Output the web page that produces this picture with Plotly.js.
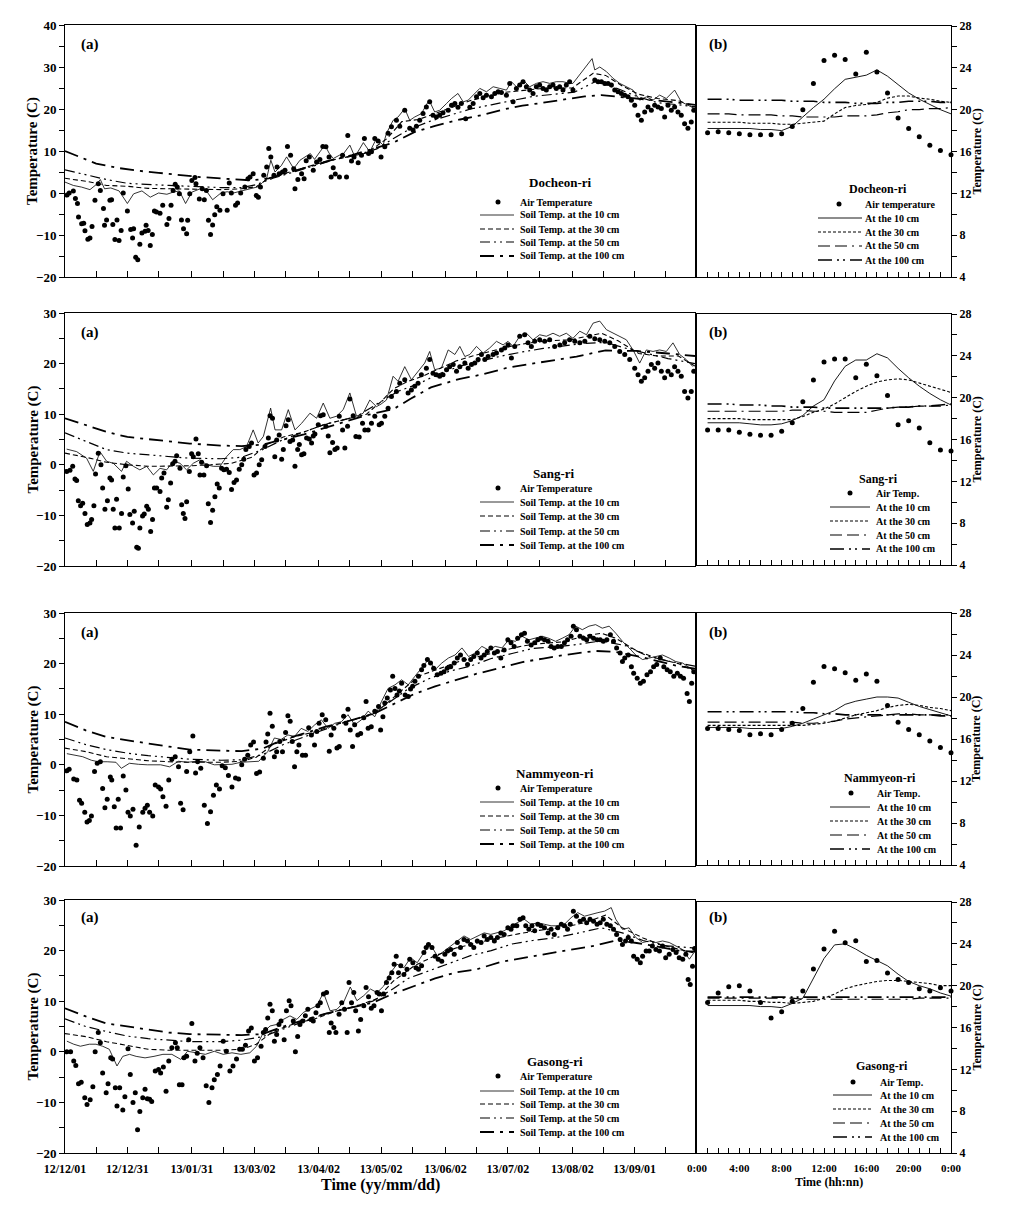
<!DOCTYPE html>
<html><head><meta charset="utf-8">
<script src="https://cdn.plot.ly/plotly-3.0.1.min.js"></script>
<style>body{margin:0;background:#fff}#chart{width:1011px;height:1214px}</style>
</head><body><div id="chart"></div>
<script>
// ---------------- DATA ----------------
const siteNames = ['Docheon-ri','Sang-ri','Nammyeon-ri','Gasong-ri'];
// x axis of panel (a): days since 2012-12-01
const dateTickDays = [0,15,30,45,61,76,91,106,122,137,152,167,183,198,213,228,244,259,274,289];
const dateTickLabels = ['12/12/01','','12/12/31','','13/01/31','','13/03/02','','13/04/02','','13/05/02','','13/06/02','','13/07/02','','13/08/02','','13/09/01',''];
const hourTicks = [0,1,2,3,4,5,6,7,8,9,10,11,12,13,14,15,16,17,18,19,20,21,22,23,24];
const hourLabels = ['0:00','','','','4:00','','','','8:00','','','','12:00','','','','16:00','','','','20:00','','','','0:00'];
const hours = [1,2,3,4,5,6,7,8,9,10,11,12,13,14,15,16,17,18,19,20,21,22,23,24];

// ----- Docheon-ri daily -----
const airDocheon = [[1,-0.5],[2,0],[4,0.5],[5,-1.3],[6,-2.5],[6.5,-5.7],[8,-7.3],[9,-7.2],[9.6,-9],[11,-11],[12,-10.7],[13,-8],[14.4,-1.7],[16,2.2],[17,0.6],[18.5,-3.7],[19,-7.7],[20,-6.4],[21.6,-1.7],[22.4,-1.6],[23,-7.5],[24,-11.1],[25,-6.4],[26,-11.3],[27,-8.9],[28,0],[30,-4.3],[31.6,-8.7],[32.5,-10.7],[33,-8.5],[34,-15.3],[35,-15.9],[36,-12.2],[37,-9.5],[38.5,-9.1],[39,-7.7],[40,-8.9],[41,-12.5],[42,-9.9],[43,-4.3],[44,-4.5],[45.7,-4.8],[47,-2.9],[49,-7.5],[50,-6.1],[51,-2.9],[52,0.6],[53,2.1],[54,1.4],[55,-0.2],[56,-6.4],[57,-8.5],[58.5,-9.7],[59,-6.5],[60,-0.2],[61,3],[62.5,3.7],[63,2.2],[64.6,-1.4],[66,1],[67,-1.6],[68,0.6],[69,-6.5],[70,-9.9],[71,-7.6],[72,-5.2],[73,-3.3],[74.5,-4.1],[76,-0.2],[78,-4.1],[79,2.4],[80,0],[82,-2.9],[83,-2.4],[84.5,0],[86.5,1.4],[88,3.4],[89,3.8],[90.5,4.6],[92,-0.6],[93,-1],[94,1.4],[95.6,4.2],[97,6.2],[98,10.6],[99,8.6],[100.5,4.2],[102,6.2],[103,4.6],[104.6,5],[105.8,5.4],[107,11.1],[108.5,9],[110,5.8],[110.6,1],[112,3.2],[113.8,4.6],[115,3.4],[116,7.7],[117.5,8.6],[119.4,5.4],[121,7.4],[122.6,8],[124,11.1],[125.5,11],[127,8.6],[128,3.8],[129,6],[130,4.5],[132,3.8],[133.5,9],[135.4,3.8],[136,13.7],[137.8,7.6],[139,8.6],[141,7.2],[142.6,9],[144,13],[146,9.4],[147.4,9.8],[149,13],[150.6,12.4],[152,8.6],[153.8,11],[155.4,14.2],[157,15.8],[159.4,17.3],[161,15.9],[163.4,19.7],[165.8,15.4],[167.4,15],[169,15.9],[170.6,17.3],[172.2,18.9],[173.8,20.5],[175.4,21.7],[177,18.5],[178.6,18.1],[180.2,18.5],[181.8,19.1],[184.3,19.7],[185.9,20.9],[187.5,21.3],[189,20.4],[190.6,21.3],[192.7,17.7],[194.7,20.4],[196.3,21.3],[197.9,22.9],[199.5,23.7],[201.1,22.7],[202.7,23.3],[205.1,22.9],[206.7,23.7],[208.3,24.1],[209.9,23.9],[212.3,23.3],[213.9,26.1],[215.5,21.7],[217.1,24.9],[218.7,25.7],[220.3,26.5],[221.9,25.3],[223.5,24.5],[225.1,23.7],[226.7,25.3],[228.3,25.7],[229.9,24.9],[231.5,24.5],[233.1,25.3],[234.7,25.7],[236.3,24.9],[237.9,25.3],[239.5,24.5],[241.1,25.7],[242.7,26.5],[244.3,24.5],[254.8,26.9],[256.4,26.5],[258,26.5],[259.6,26.1],[261.2,26.1],[262.8,25.7],[264.4,24.5],[266,24.1],[267.6,23.7],[269.2,23.3],[270.8,22.9],[272.4,22.1],[274,20.9],[275.6,18.5],[277.2,17.3],[278.8,19.3],[280.4,20.5],[282,19.7],[283.6,20.9],[285.2,20.5],[286.8,20.1],[288.4,18.1],[290,20.9],[291.6,19.7],[293.2,20.5],[294.8,19.3],[296.4,18.5],[298,16.5],[299.6,15.4],[301.2,16.9],[302.4,19.7]];
const soil10Docheon = [[0,2.6],[4,1.8],[8,1.4],[12,0.8],[15,2],[17,3.2],[19,1],[22,1.2],[26,0.5],[30,-2.5],[33,-0.2],[37,0.5],[41,-1],[45,0],[49,-0.3],[52,0.2],[55,0.5],[58,-2.5],[61,0.2],[65,1],[68,0.5],[71,-1.6],[75,0],[78,0.3],[81,0],[85,0.5],[88,0.8],[90,1],[93,1.5],[95,2.5],[97,3.5],[99,7.8],[101,5],[104,6.5],[106.6,8.6],[110,5.8],[113,7.8],[118,9.4],[120,8],[122.6,9.8],[125,11.4],[127,9.5],[129,8.2],[132,9],[134,9.4],[137,11.4],[139.4,8.6],[143.5,12],[146.6,9.8],[149.8,13],[153,11.4],[154.6,14.2],[157.8,17.3],[160.2,18.1],[163.4,20.1],[165.8,17.3],[168.2,18.1],[171.4,18.9],[175.1,22.1],[177.8,19.3],[180.2,19.7],[183.5,21.3],[185.9,22.5],[189,23.7],[191.5,21.7],[193.9,22.1],[196.3,23.3],[199.5,24.9],[202.7,24.1],[205.9,25.3],[209.1,24.9],[212.3,24.5],[214.7,26.5],[217.1,25.3],[220.3,26.9],[223.5,25.3],[226.7,26.1],[229.9,26.5],[233.1,26.1],[236.3,26.5],[239.5,26.5],[242.7,26.1],[244.3,26.1],[249.2,29.3],[253.5,32],[254.8,29.3],[257.2,30],[260.4,28.9],[263.6,27.3],[266.8,26.1],[270,25.3],[273.2,24.5],[276.4,22.1],[279.6,22.9],[282.8,22.1],[286,23.3],[289.2,22.5],[293.2,24.5],[296.4,21.7],[299.6,20.9],[302.8,20.1]];
const soil30Docheon = [[0,3.5],[10,2.8],[20,1.8],[30,1.6],[40,1.1],[50,1],[60,1],[75,0.8],[85,1],[92,1.5],[98,3.5],[105,4.5],[115,6],[125,7.5],[135,8.5],[145,9.5],[155,13],[162,17],[170,17.5],[178,19],[186,20.5],[195,22],[203,23],[212,24],[222,24.5],[232,25],[244,25],[254,28.5],[260,28],[268,25.5],[276,23.5],[285,22.5],[295,22],[303,20.5]];
const soil50Docheon = [[0,5.5],[10,4.3],[20,3.2],[30,2.3],[40,2],[50,1.8],[60,1.6],[75,1.3],[85,1.3],[92,2],[100,3.5],[110,5],[120,6.5],[130,8],[140,9],[150,10.5],[158,13],[165,15],[175,17],[185,18.5],[195,20],[205,21],[215,22],[225,23],[235,23.5],[245,24],[255,26.5],[265,25],[275,23],[285,21.5],[295,21],[303,20.5]];
const soil100Docheon = [[0,10],[8,8.5],[15,7],[25,6],[35,5.3],[45,4.8],[55,4.3],[65,3.8],[80,3.3],[90,3],[98,3.5],[105,4.5],[112,5.5],[120,6.8],[128,7.8],[138,9],[148,10.5],[158,12],[168,14.5],[178,16],[190,17.5],[200,18.5],[210,19.8],[220,20.8],[230,21.5],[240,22.3],[250,23],[258,23.3],[265,23],[275,22.5],[285,22],[295,21.5],[303,21]];

// ----- Sang-ri daily -----
const airSang = [[0.8,-1.3],[2.4,-1.1],[3.7,-0.3],[4.8,-2.8],[5.6,-3.1],[6.4,-7.1],[7.5,-8.1],[8.5,-7.6],[9.6,-9.6],[10.7,-11.8],[12,-11.5],[12.8,-10.8],[13.9,-8.1],[14.7,-1.8],[16,2.3],[17.3,0],[18.1,-4.6],[19.2,-8.8],[20.4,-7.1],[21.6,-2.6],[22.4,-3],[23.2,-8.8],[24,-12.5],[24.8,-6.8],[26.1,-12.5],[27.2,-9.6],[28,-2.4],[29.3,-0.2],[30.4,-4.8],[31.2,-9.8],[32.5,-11.5],[33.3,-9.2],[34.5,-16.3],[35.3,-16.5],[36,-12.5],[37.3,-10.1],[38.1,-9.7],[39.3,-8.2],[40.1,-8.8],[41.2,-13.2],[42.1,-10.8],[43,-4.6],[44.1,-4.6],[45.7,-5.3],[46.5,-2.6],[47.6,-1.6],[48.9,-8.4],[49.7,-6.9],[50.8,-3.6],[51.8,0.2],[52.9,0.7],[53.7,1.8],[55.3,-0.7],[56.1,-7.9],[56.9,-9.6],[57.7,-10.6],[58.5,-7.3],[59.8,-1.3],[60.9,2.2],[61.7,1.6],[63,5.1],[64.1,2.2],[64.9,-2],[65.7,0.5],[66.8,-2],[68.1,-0.2],[68.9,-7.7],[70,-11.4],[71,-9],[72.1,-6.3],[73.2,-3.8],[74.2,-4.6],[75.3,-0.7],[76.4,-1],[77.7,-0.9],[79,-1.5],[80.1,-4.9],[81.3,-3.5],[82.5,-3],[83.8,-0.9],[85,0],[86,1.1],[87,3],[88.6,3.6],[89.7,4.3],[90.9,-2],[92.1,-1.6],[93.4,0],[94.6,1],[96.2,3.6],[97.8,5.3],[98.6,9.7],[99.8,9.2],[100.9,1.6],[101.8,4.9],[103,5.9],[104.2,1.1],[105,3],[106.3,7.7],[107.4,8.9],[108.2,4.6],[109.5,4.9],[110.6,-0.3],[111.9,3],[112.7,4],[113.8,2],[114.9,2.2],[116.2,5.3],[117.5,5.1],[118.6,4.3],[119.4,5.7],[120.2,6.1],[121.8,7.9],[122.9,9.7],[124.2,9.9],[125.5,7.6],[126.6,5.7],[127.4,2.4],[128.7,4.4],[129.8,3],[130.9,3.3],[131.9,9.6],[133.5,6.9],[134.6,3.3],[135.9,7.6],[137,13],[138.6,9.7],[139.9,5.6],[141.5,5.5],[143.1,8.2],[144.2,6.9],[145.8,6.9],[147.4,8.2],[149,9.6],[151.1,7.9],[152.2,8.2],[153.8,9.6],[155.4,11.2],[157,13.5],[159.4,14.5],[161,16.1],[163.4,16.8],[165,14.2],[166.6,14.8],[168.2,15.5],[169.8,16.1],[171.4,17.8],[173.8,19.1],[175.4,20.8],[177,18.1],[178.6,17.8],[180.2,17.5],[181.8,17.8],[183.5,18.8],[185,19.4],[186.7,19.8],[188.3,18.5],[189.9,19.4],[192.3,20.1],[193.9,19.1],[195.5,19.8],[197.1,20.1],[198.7,20.8],[200.3,21.8],[201.9,20.8],[203.5,21.4],[205.9,21.8],[207.5,22.1],[209.9,22.7],[211.5,23.1],[213.1,23.7],[214.7,21.1],[216.3,23.4],[218.7,25.4],[221.1,25.7],[222.7,24.1],[224.3,23.4],[225.9,24.4],[228.3,24.7],[230.7,24.4],[233.1,24.7],[235.5,23.4],[238,23.7],[240.3,24.1],[242.7,24.7],[245.2,24.4],[247.6,24.1],[250,24.4],[252.4,25.4],[254.8,24.9],[257.2,24.7],[259.6,24.4],[262,24.1],[264.4,23.4],[266.8,22.4],[269.2,21.8],[271.6,20.8],[274,19.1],[275.6,17.8],[277.2,16.5],[278.8,17.2],[280.4,18.5],[282,19.8],[283.6,19.1],[285.2,20.1],[286.8,18.5],[288.4,17.2],[290,18.5],[291.6,17.8],[293.2,19.4],[294.8,18.5],[296.4,17.5],[298,14.5],[299.6,13.2],[301.2,14.5],[302.4,18.5]];
const soil10Sang = [[0.8,3.1],[5.6,2.6],[10.4,1.3],[13.6,-1.3],[16.8,2.6],[20,0.7],[23.2,0.3],[27.2,-1.3],[29.6,0.7],[32.9,-0.3],[36,-1],[39.3,-0.3],[42.5,-2],[45.7,-0.7],[48.9,-1],[52.1,0.7],[55.3,0.3],[58.5,-1],[61.7,0.3],[64.9,1],[68.1,0],[71.3,-0.3],[74.5,-0.3],[77.7,1.6],[80.9,3],[84.1,3],[87.3,3.6],[90.5,6.9],[92.9,4.3],[95.4,5.6],[98.9,11.2],[101,6.9],[104.2,6.9],[107.4,10.9],[110.6,6.9],[113.8,8.2],[117.8,10.2],[121,9.2],[124.2,12.2],[127.4,9.2],[130.6,9.6],[133.8,10.9],[137,14.2],[140.2,9.6],[143.4,10.2],[146.6,12.8],[149.8,11.5],[152,12],[154.6,12.8],[157.8,17.5],[160.2,16.5],[163.4,19.4],[166.6,16.8],[169.8,18.5],[173,20.1],[175.4,22.4],[177.8,18.8],[181,19.1],[184.3,22.7],[187.5,21.8],[189.9,23.4],[192.3,21.4],[194.7,21.8],[197.9,23.4],[201.1,22.1],[204.3,23.1],[207.5,24.4],[210.7,23.7],[213.1,24.4],[215.5,23.4],[218.7,25.4],[221.9,26],[225.1,24.7],[228.3,25.7],[231.5,25.4],[234.7,26],[237.9,25.4],[241.1,26],[244.3,25],[247.6,26.4],[250.8,25.7],[254,28],[257.2,28.4],[260.4,26.7],[263.6,26],[266.8,25.4],[270,24.7],[273.2,22.7],[276.4,20.1],[279.6,22.7],[282.8,22.4],[286,22.7],[289.2,22.4],[292.4,24.1],[295.6,21.8],[298.8,20.8],[302,19.4]];
const soil30Sang = [[0,2.3],[10,1.5],[20,0.5],[30,0],[40,-0.3],[50,-0.3],[60,-0.2],[70,0],[80,0.3],[90,1.5],[97,4],[105,5.5],[115,6.5],[125,8],[135,9],[145,10],[152,12.5],[158,15],[165,16.5],[172,17.5],[180,19],[188,20.5],[196,21.5],[205,22.5],[213,23.3],[222,24],[232,24.5],[243,24.7],[252,25.5],[258,26],[266,24.5],[276,22],[285,21.5],[295,21.5],[303,19.5]];
const soil50Sang = [[0,6.3],[10,4.6],[20,3],[30,2.3],[45,1.8],[60,1.3],[75,1.2],[85,1.5],[95,3],[105,5],[115,6.5],[125,8],[140,9.5],[150,12],[160,14.5],[170,16],[180,18],[190,19.5],[200,20.5],[210,21.5],[220,22.3],[230,23],[240,23.5],[250,24],[260,24.2],[270,23],[280,22],[290,21],[303,20]];
const soil100Sang = [[0,9.2],[10,7.8],[20,6.5],[30,5.5],[45,4.8],[60,4.2],[75,3.8],[85,3.7],[95,4],[105,5],[115,6],[125,7.3],[135,8.5],[145,9.8],[158,11],[166,13],[176,15.3],[190,17],[200,17.8],[213,19.2],[222,19.8],[236,20.8],[246,21.4],[260,22.6],[275,22.5],[290,22],[303,21.5]];

// ----- Nammyeon-ri daily -----
const airNammyeon = [[0.9,-1.2],[2,-0.9],[4.2,-2.8],[5.7,-3],[7,-7],[8,-7.6],[9.5,-9.4],[10.6,-11.3],[11.7,-11],[12.7,-10.1],[14.2,-1.3],[15.5,0.3],[17,0.6],[18.1,-4.7],[19.2,-8.5],[20.3,-6.8],[21.8,-2.4],[22.5,-3],[23.7,-8.3],[24.6,-12.5],[25.6,-6.8],[26.7,-12.5],[28,-2.2],[29.3,-5],[30.3,-9.4],[31.4,-10.1],[32.7,-8.8],[34.2,-15.9],[35.7,-12.3],[37.4,-9.4],[38.5,-8.6],[39.6,-8],[40.7,-9.4],[42.2,-10.1],[43.4,-4],[45,-4.4],[46,-4.8],[47.1,-6.3],[48.6,-8.2],[49.9,-3],[51.4,1.1],[53,1.6],[54.6,-0.4],[55.6,-7.6],[56.8,-8.9],[58.5,-1.3],[60,2.6],[61.5,5.7],[62.8,-1.6],[63.8,0.6],[65.3,-0.7],[67,-8],[68.5,-11.6],[70,-9.3],[71.4,-6],[72.8,-4],[74.3,-4.8],[75.6,-0.2],[77.1,-0.6],[78.6,-2.1],[80.3,-4.4],[82,-2.6],[83.5,-2.8],[85,0],[86.4,1.1],[87.9,1.9],[89.3,3.9],[90.7,4.5],[92.1,-1.7],[93.6,-1.4],[95.4,1.3],[96.7,4.5],[97.5,6.1],[98.6,10.2],[99.7,7.6],[100.7,1.6],[101.8,2.6],[103.3,4.6],[104.6,2.6],[106.1,6.4],[107.2,9.7],[108.3,8.6],[109.3,4.6],[110.4,-0.4],[111.5,2.6],[112.5,3.9],[114.2,1.9],[115.7,1.9],[117.2,7.3],[118.5,5.9],[120,3.9],[121.1,6.6],[122.2,8.2],[123.7,9.9],[125.4,8.9],[127.1,2.7],[128,5.9],[129.3,7.2],[130.8,3.3],[131.9,3.6],[134,9.6],[135.1,8.2],[136.1,11],[137.2,6.9],[138.3,3.6],[139.3,7.9],[140.8,5.9],[142.2,6.2],[143.7,9.3],[144.8,12.5],[145.8,7.2],[147.3,7.5],[149,10.6],[150.8,11.5],[151.8,6.9],[152.9,9.5],[153.8,12.2],[155,13.2],[156.5,14.8],[157.6,17.5],[158.7,15.1],[159.7,13.8],[160.8,14.6],[161.9,16.1],[163.6,13.8],[165.1,13.5],[166.2,15],[167.2,15.5],[168.3,16.5],[170,17.5],[171.5,18.8],[172.6,19.6],[174.3,20.8],[175.8,20.1],[177.3,19.1],[179,17.8],[180.8,18.1],[182.3,18.4],[183.8,19.1],[185.5,19.4],[187.2,20.1],[188.7,21.1],[190.2,21.7],[191.9,20.8],[193.6,19.8],[195.1,20.8],[196.6,21.4],[198.3,22.1],[200.1,21.1],[201.6,21.7],[203.1,22.4],[204.8,23.1],[206.5,22.1],[208,22.4],[209.6,21.1],[211.2,22.7],[213,24.7],[214.5,24.1],[216,23.4],[217.7,25],[219.5,25.7],[221,26],[222.4,24.4],[224.2,23.7],[225.9,24.1],[227.4,24.7],[228.9,25],[230.6,24.7],[232.3,24.4],[233.8,23.4],[235.3,23.1],[237,23.4],[238.7,23.4],[240.2,24.1],[241.7,24.7],[243.4,25.4],[244.5,27.4],[246,26.7],[247.7,25.4],[249.4,25],[250.9,24.7],[252.5,25.4],[254.2,25],[255.9,24.7],[257.4,24.7],[258.9,24.4],[260.6,24.7],[262.3,25.7],[263.8,24.4],[265.3,23.1],[267,22.1],[268.1,20.4],[269.2,21.1],[270.9,21.7],[272.4,19.4],[273.5,18.1],[275.2,17.1],[276.7,16.1],[278.2,16.5],[279.9,17.8],[281.6,18.4],[283.1,19.4],[284.6,19.8],[286.3,21.1],[288,19.4],[289.6,18.8],[291.1,18.4],[292.8,17.5],[294.5,18.1],[296,17.5],[297.5,17.1],[299.2,14.1],[300.3,12.5],[301.4,16.1],[302.4,18.4]];
const soil10Nammyeon = [[0.9,2.2],[4.2,1.9],[8.5,1.6],[12.7,0.9],[16,0.6],[20.3,0.6],[24.5,0.5],[27.1,-0.7],[31,0.3],[35.3,0.1],[39.6,0],[46,0],[50.3,-0.4],[54.6,0.7],[58.9,0.5],[63.2,0.7],[67.5,0.6],[71.8,0],[76.1,0.1],[80.3,0.1],[84.6,0.5],[88.9,0.6],[93.2,0.7],[97.5,2.6],[100.7,5.3],[103.9,5],[107.2,5.9],[110.4,5.6],[113.6,7.2],[116.8,6.6],[120.1,7.9],[123.3,8.9],[126.5,7.2],[129.7,8.2],[132.9,8.5],[136.1,9.9],[139.3,7.9],[142.6,8.9],[145.8,10.6],[149,9.5],[152.2,12.5],[155.4,15.1],[158.7,15.8],[161.9,16.8],[165.1,15.8],[168.3,17.5],[171.5,19.1],[174.8,20.8],[178,18.8],[181.2,20.1],[184.4,21.1],[187.6,21.7],[190.9,23.1],[194.1,21.4],[197.3,22.1],[200.5,23.4],[203.7,22.7],[206.9,23.4],[210.2,23.1],[213.4,24.7],[216.6,24.4],[219.8,25.4],[223.1,24.7],[226.3,25],[229.5,25.4],[232.7,25],[235.9,24.4],[239.1,25],[242.4,25.7],[245.6,27.4],[248.8,26.7],[252,27.4],[255.2,27.7],[258.4,27],[261.7,27.4],[264.9,26],[268.1,24.4],[271.3,23.1],[274.5,21.7],[277.8,20.8],[281,21.1],[284.2,21.4],[287.4,21.7],[290.6,21.1],[293.8,20.4],[297.1,20.1],[300.3,19.1],[303,18.4]];
const soil30Nammyeon = [[0,3.3],[10,2.6],[20,1.6],[30,1.2],[40,0.8],[50,0.6],[60,0.5],[75,0.5],[85,0.7],[92,1.5],[100,4],[110,5.5],[120,6.5],[130,8],[140,9],[150,10.5],[160,14],[170,17.5],[180,19],[190,20.5],[200,21.5],[210,22.5],[220,23.5],[230,24],[240,24.3],[250,25.5],[258,26],[265,25],[275,22.5],[285,21],[295,20],[303,18.5]];
const soil50Nammyeon = [[0,5.3],[10,4],[20,3],[30,2.3],[40,1.8],[50,1.4],[60,1.1],[75,0.9],[85,1],[95,2],[105,4],[115,5.5],[125,7],[135,8.5],[148,10],[158,13],[165,15],[175,17],[185,18.5],[195,19.5],[205,21],[215,22],[225,23],[235,23.3],[245,23.7],[258,24.5],[270,23.5],[280,21.5],[290,20.5],[303,19.5]];
const soil100Nammyeon = [[0,8.5],[10,6.8],[20,5.5],[30,4.8],[40,4.2],[50,3.6],[60,3],[75,2.8],[85,2.7],[95,3.2],[105,5],[115,6.2],[125,7.5],[135,8.5],[148,10],[158,12],[168,14],[178,15.5],[188,16.8],[198,18],[208,19],[220,20.3],[230,21],[240,21.7],[255,22.5],[265,22.3],[275,21.5],[285,20.5],[295,19.5],[303,19]];

// ----- Gasong-ri daily -----
const airGasong = [[0.9,0],[2.7,0],[4.2,-1.8],[5.2,-2.7],[6.5,-6.3],[7.8,-6],[9.5,-9.1],[10.6,-10.4],[12.1,-9.5],[13.4,-6.9],[14.5,0],[16,3.8],[17,1.8],[18.1,-4.2],[19.8,-8.1],[20.7,-6.3],[22,-1.2],[22.9,-1.4],[24.2,-7.1],[25,-10.7],[26.3,-7.1],[27.8,-11.5],[28.8,-8.9],[30.3,0.6],[31.4,-4.5],[32.7,-10],[33.8,-8.1],[34.9,-15.4],[36,-11.8],[37.4,-9.1],[38.5,-7.4],[39.6,-9.3],[40.7,-9.4],[41.7,-9.8],[43.4,-3.8],[45,-3.5],[46,-4.2],[47.3,-3],[48.6,-7.8],[49.9,-1.8],[51.4,0.8],[53.1,1.8],[54,0.8],[55,-6.5],[56.3,-6.5],[57.2,-1.2],[58.5,-0.9],[59.5,2.4],[61,5.6],[62.5,-1.8],[63.6,-0.3],[64.9,0.8],[66.4,-1.2],[67.9,-6.7],[69.2,-10],[70.7,-7.1],[71.8,-5.5],[73.3,-4.5],[74.6,-2.8],[76.1,2.1],[77.6,0.1],[79.3,-3.8],[80.8,-2.8],[82.5,-1.4],[84,0.5],[85.3,0.5],[86.8,1.3],[88.3,4.1],[89.6,4.7],[91.1,-1.8],[92.6,-1.2],[94.3,1.1],[95.4,3.8],[96.5,4.4],[97.5,6.7],[98.6,9.4],[99.7,8.1],[100.7,2.1],[101.8,3.4],[102.9,5.4],[103.9,6.1],[105.4,2.4],[106.5,8.1],[107.8,10.1],[108.7,9.1],[109.8,6.1],[110.8,0],[111.9,3],[113,5.4],[114.3,6.1],[115.6,7.1],[116.8,8.4],[118.3,6.4],[119.4,6.1],[120.7,7.7],[121.6,9.1],[122.8,9.7],[124.3,11.4],[125.8,11.7],[127.1,3.8],[128,5.7],[129.3,4.8],[130.3,3.8],[131.8,7.4],[133.1,9.7],[134.4,8.4],[135.7,3.8],[136.6,13.7],[137.8,9.7],[138.9,11.7],[139.8,8.1],[141.1,4.1],[142.2,6.4],[143.7,9.1],[144.8,12.7],[146,10.9],[147.3,8.6],[148.6,9.1],[150.1,11.7],[151.1,11.4],[152.2,8.1],[153.3,11.4],[154.6,13.7],[155.9,14.6],[157.2,15.6],[158.3,17.3],[159.3,18.9],[160.4,15.6],[161.5,17],[163,15.3],[164.5,16.3],[165.8,18.3],[167.3,17.6],[168.8,16.6],[170,16.3],[171.5,17],[172.6,19.6],[173.7,20.6],[174.8,21.2],[176.5,20.6],[178,18.9],[179.5,18.3],[181.2,17.9],[182.7,19.3],[184,19.9],[185.5,20.2],[187.2,19.3],[188.7,21.6],[190.2,20.6],[191.9,22.2],[193.6,21.9],[195.1,21.2],[196.6,20.6],[198.3,21.9],[200.1,21.6],[201.6,22.9],[203.1,22.2],[204.8,22.6],[206.5,21.9],[208,22.6],[209.6,23.5],[211.2,23.2],[213,24.5],[214.5,24.2],[215.5,24.9],[217.3,24.9],[218.8,26.2],[220.3,26.5],[221.6,24.9],[223.1,24.2],[224.6,24.9],[225.9,23.9],[227.4,25.2],[228.9,24.9],[230.6,24.5],[232.3,23.5],[233.8,24.2],[235.3,23.2],[237,24.5],[238.7,25.2],[240.2,24.9],[241.7,24.2],[243,25.2],[244.5,27.8],[246,26.8],[247.7,25.8],[249.4,26.2],[250.9,25.5],[252.5,26.2],[254.2,25.8],[255.9,25.2],[257.4,25.5],[258.9,26.2],[260.6,25.2],[262.3,24.9],[263.8,24.2],[265.3,23.2],[267,22.2],[268.1,21.2],[269.6,21.9],[270.9,22.6],[272.4,21.9],[273.5,18.9],[275.2,18.3],[276.7,17.6],[277.8,18.9],[279.5,19.9],[281,19.9],[282.5,20.9],[284.2,20.2],[285.9,19.9],[287.4,20.9],[288.9,18.6],[290.6,19.3],[292.4,20.2],[293.9,19.6],[295.4,18.6],[297.1,18.3],[298.6,19.3],[299.7,14.3],[300.7,13.3],[301.8,16.9],[302.8,20.4]];
const soil10Gasong = [[0.9,2.1],[4.2,1.5],[7.4,1.1],[11.7,1.5],[14.9,1.5],[18.1,1.1],[21.3,0.5],[25,-2.8],[27.8,-0.9],[31,-0.5],[34.2,-0.9],[38.5,-1.2],[42.8,-0.9],[47.1,-0.5],[51.4,-0.5],[55.7,-1.5],[58.9,0.1],[63.2,-0.2],[67.5,-0.5],[71.8,0.1],[76.1,-0.5],[80.3,-0.2],[84.6,-0.5],[88.9,-0.2],[92.1,1.1],[95.4,3.8],[98.6,5.1],[101.8,5.4],[105,6.4],[108.2,7.1],[111.5,6.4],[114.7,7.8],[117.9,8.4],[121.1,9.1],[124.3,11.7],[127.5,8.1],[130.8,8.4],[134,9.8],[137.2,12.8],[140.4,10.1],[143.7,11.1],[146.9,12.4],[150.1,11.7],[153.3,13],[156.5,15.6],[159.7,17.3],[163,16.6],[166.2,18.6],[169.4,17.6],[172.6,19.6],[175.8,21.2],[179.1,18.9],[182.3,19.9],[185.5,20.9],[188.7,21.9],[191.9,22.9],[195.1,22.2],[198.4,22.9],[201.6,23.5],[204.8,23.2],[208,23.5],[211.2,23.9],[214.5,24.9],[217.7,25.5],[220.9,26.2],[224.1,25.2],[227.4,25.5],[230.6,25.2],[233.8,24.9],[237,24.9],[240.2,25.2],[243.4,26.5],[246.6,27.5],[249.9,26.8],[253.1,27.2],[256.3,27.5],[259.5,27.8],[262.7,28.5],[264.9,26.2],[268.1,24.2],[271.3,24.5],[274.5,22.6],[277.8,21.6],[281,21.9],[284.2,21.6],[287.4,21.9],[290.6,21.6],[293.8,20.9],[297.1,20.2],[300.3,18.3],[303,19.9]];
const soil30Gasong = [[0,3.6],[10,3],[20,2],[30,1.2],[40,0.5],[50,0.3],[60,0.3],[75,0.3],[85,0.5],[92,1.5],[100,4],[110,5.5],[120,6.5],[130,8],[140,9],[150,10.5],[158,14],[168,17],[178,19],[188,20.5],[198,21.5],[208,22.5],[218,23.3],[228,24],[238,24.5],[250,25.5],[260,27],[268,24.5],[278,22.5],[288,21],[298,20],[303,19.5]];
const soil50Gasong = [[0,6.5],[10,5],[20,4],[30,3.1],[40,2.6],[50,2.3],[60,2],[75,2],[85,2.3],[95,3],[105,4.5],[115,6],[125,7.5],[135,8.5],[148,10],[158,12.5],[165,14.5],[175,16],[185,17.5],[195,19],[205,20],[215,21.3],[225,22],[235,22.5],[245,23.3],[258,24.5],[268,23.5],[278,22],[288,21],[303,20.5]];
const soil100Gasong = [[0,8.6],[10,7],[20,5.6],[30,5],[40,4.5],[50,3.8],[60,3.5],[75,3.3],[85,3.3],[95,3.5],[105,5],[115,6.3],[125,7.5],[135,8.5],[148,9.7],[158,11.5],[168,13],[178,14.5],[188,15.7],[198,16.3],[210,17.8],[222,18.6],[235,19.6],[245,20.3],[255,21],[265,22],[275,21.5],[285,20.8],[295,20],[303,19.8]];

// ----- hourly (panel b), hours 1..24 -----
const hAirDocheon  = [17.8,17.9,17.8,17.7,17.6,17.6,17.6,17.7,18.4,20,22.5,24.7,25.2,24.8,23.4,25.5,23.6,21.6,19.2,18.2,17.4,16.6,16.1,15.7];
const h10Docheon   = [18.2,18.2,18.2,18.2,18.2,18.1,18.1,18,18.4,19.3,20.2,21,22,22.9,23.1,23.3,23.8,23.2,22.4,21.6,21,20.5,20,19.6];
const h30Docheon   = [18.8,18.8,18.8,18.8,18.7,18.7,18.7,18.6,18.6,18.7,18.8,18.9,19.6,20.2,20.4,20.5,20.7,21.1,21.3,21.3,21.1,21,20.8,20.7];
const h50Docheon   = [19.6,19.6,19.6,19.5,19.5,19.5,19.5,19.4,19.4,19.3,19.3,19.3,19.3,19.4,19.4,19.4,19.5,19.7,19.8,20,20,20.1,20.1,20.2];
const h100Docheon  = [21,21,21,20.9,20.9,20.9,20.9,20.9,20.8,20.8,20.8,20.7,20.7,20.7,20.6,20.6,20.6,20.7,20.7,20.8,20.8,20.8,20.7,20.7];
const hAirSang     = [16.9,16.9,16.9,16.7,16.5,16.4,16.4,16.8,17.6,19.6,21.7,23.4,23.7,23.7,21.9,23.2,22.1,20.2,17.4,17.8,17.1,15.7,15,14.9];
const h10Sang      = [17.6,17.6,17.6,17.6,17.5,17.4,17.4,17.5,17.8,18.3,19.2,19.8,21.6,23,23.6,23.6,24.2,23.8,22.8,21.9,21.1,20.4,19.8,19.3];
const h30Sang      = [18,18,18,18,17.9,17.9,17.9,17.9,17.9,18.2,18.6,18.9,19.4,20,20.6,21.1,21.5,21.7,21.8,21.7,21.4,21.1,20.8,20.5];
const h50Sang      = [18.7,18.7,18.7,18.7,18.7,18.7,18.7,18.7,18.8,18.8,18.7,18.7,18.6,18.6,18.6,18.6,18.8,19,19.1,19.1,19.2,19.2,19.2,19.3];
const h100Sang     = [19.4,19.4,19.4,19.3,19.3,19.3,19.2,19.2,19.1,19.1,19.1,19,19,19,19,19,19,19,19.1,19.1,19.2,19.2,19.3,19.4];
const hAirNammyeon = [17,17,16.9,16.8,16.4,16.5,16.4,16.9,17.5,18.9,21.4,22.9,22.7,22.3,21.6,22.2,21.5,19.2,17.6,16.9,16.4,15.8,15.2,14.7];
const h10Nammyeon  = [17.1,17.1,17.1,17.1,17,17,17,17,17.2,17.5,17.9,18.3,18.7,19.3,19.6,19.8,20,20,19.9,19.5,19.1,18.8,18.5,18.2];
const h30Nammyeon  = [17.3,17.3,17.3,17.3,17.3,17.3,17.3,17.3,17.3,17.3,17.4,17.5,17.7,18,18.3,18.5,18.7,19,19.2,19.3,19.2,19,18.9,18.7];
const h50Nammyeon  = [17.6,17.6,17.6,17.6,17.6,17.6,17.6,17.6,17.6,17.5,17.5,17.6,17.7,17.9,18,18.1,18.2,18.3,18.4,18.4,18.3,18.3,18.3,18.3];
const h100Nammyeon = [18.6,18.6,18.6,18.6,18.6,18.6,18.6,18.6,18.6,18.5,18.5,18.4,18.4,18.3,18.3,18.3,18.3,18.3,18.3,18.3,18.3,18.3,18.2,18.2];
const hAirGasong   = [18.4,19.3,19.9,20,19.5,18.4,16.9,17.5,18.5,19.5,21.6,23.5,25.2,24.1,24.3,22.3,22.4,21.2,20.6,20.3,19.7,19.5,19.8,19.5];
const h10Gasong    = [18.1,18.1,18.1,18.1,18.1,18,18,17.9,18.3,18.8,20.7,22.6,23.9,24,23.5,22.9,22.4,21.9,21.1,20.4,20,19.7,19.3,19];
const h30Gasong    = [18.6,18.6,18.6,18.6,18.5,18.5,18.4,18.4,18.3,18.4,18.5,18.8,19.2,19.7,20,20.2,20.4,20.5,20.5,20.4,20.3,20.2,20,20];
const h50Gasong    = [18.8,18.8,18.8,18.8,18.8,18.8,18.8,18.8,18.8,18.7,18.7,18.7,18.7,18.7,18.7,18.7,18.7,18.7,18.7,18.7,18.8,18.8,18.8,18.8];
const h100Gasong   = [18.9,18.9,18.9,18.9,18.9,18.9,18.9,18.9,18.9,18.9,18.9,18.9,18.9,18.9,18.9,18.9,18.9,18.9,18.9,18.9,18.9,18.9,18.9,18.9];

const leftLegendLabels = ['Air Temperature','Soil Temp. at the 10 cm','Soil Temp. at the 30 cm','Soil Temp. at the 50 cm','Soil Temp. at the 100 cm'];
const rightLegendLabels = [
  ['Air temperature','At the 10 cm','At the 30 cm','At the 50 cm','At the 100 cm'],
  ['Air Temp.','At the 10 cm','At the 30 cm','At the 50 cm','At the 100 cm'],
  ['Air Temp.','At the 10 cm','At the 30 cm','At the 50 cm','At the 100 cm'],
  ['Air Temp.','At the 10 cm','At the 30 cm','At the 50 cm','At the 100 cm']];

// ---------------- BUILD ----------------
const daily = [
  [airDocheon, soil10Docheon, soil30Docheon, soil50Docheon, soil100Docheon],
  [airSang, soil10Sang, soil30Sang, soil50Sang, soil100Sang],
  [airNammyeon, soil10Nammyeon, soil30Nammyeon, soil50Nammyeon, soil100Nammyeon],
  [airGasong, soil10Gasong, soil30Gasong, soil50Gasong, soil100Gasong]];
const hourly = [
  [hAirDocheon, h10Docheon, h30Docheon, h50Docheon, h100Docheon],
  [hAirSang, h10Sang, h30Sang, h50Sang, h100Sang],
  [hAirNammyeon, h10Nammyeon, h30Nammyeon, h50Nammyeon, h100Nammyeon],
  [hAirGasong, h10Gasong, h30Gasong, h50Gasong, h100Gasong]];

const W = 1011, H = 1214;
const px = v => v / W, py = v => 1 - v / H;
const FONT = 'Liberation Serif, Times New Roman, serif';
const leftRows  = [[25,277],[313,566],[613,866],[900,1153]];
const rightRows = [[26,277],[314,565],[613,865],[902,1153]];
const leftX = [65,695], rightX = [697,951];

const leftStyles = [
  null,
  {width:0.8, dash:'solid'},
  {width:1.1, dash:'5px,3px'},
  {width:1.2, dash:'10px,4px,2px,4px,2px,4px'},
  {width:1.8, dash:'14px,6px,3px,6px'}];
const rightStyles = [
  null,
  {width:0.9, dash:'solid'},
  {width:1.1, dash:'3px,2px'},
  {width:1.2, dash:'12px,5px,12px,5px,2px,5px'},
  {width:1.6, dash:'14px,5px,2px,4px,2px,5px'}];

const traces = [];
const layout = {
  width: W, height: H, autosize: false,
  margin: {l:0, r:0, t:0, b:0},
  paper_bgcolor: '#fff', plot_bgcolor: '#fff',
  showlegend: false,
  font: {family: FONT, color: '#000', size: 12},
  annotations: [], shapes: []
};
const bold = (size) => ({family: FONT, size: size, color: '#000', weight: 'bold'});

for (let r = 0; r < 4; r++) {
  const li = 2*r + 1, ri = 2*r + 2;
  const xl = li === 1 ? 'x' : 'x' + li, yl = li === 1 ? 'y' : 'y' + li;
  const xr = 'x' + ri, yr = 'y' + ri;
  const isBottom = r === 3;
  const d = daily[r];
  traces.push({type:'scatter', mode:'markers', x: d[0].map(p=>p[0]), y: d[0].map(p=>p[1]),
    xaxis: xl, yaxis: yl, marker: {color:'#000', size:5}, name: leftLegendLabels[0]});
  for (let k = 1; k <= 4; k++) {
    traces.push({type:'scatter', mode:'lines', x: d[k].map(p=>p[0]), y: d[k].map(p=>p[1]),
      xaxis: xl, yaxis: yl, line: {color:'#000', width:leftStyles[k].width, dash:leftStyles[k].dash}, name: leftLegendLabels[k]});
  }
  const h = hourly[r];
  traces.push({type:'scatter', mode:'markers', x: hours, y: h[0], xaxis: xr, yaxis: yr,
    marker: {color:'#000', size:5}, name: rightLegendLabels[r][0], cliponaxis:false});
  for (let k = 1; k <= 4; k++) {
    traces.push({type:'scatter', mode:'lines', x: hours, y: h[k], xaxis: xr, yaxis: yr,
      line: {color:'#000', width:rightStyles[k].width, dash:rightStyles[k].dash}, name: rightLegendLabels[r][k]});
  }
  const lk = li === 1 ? '' : li;
  layout['xaxis' + lk] = {
    domain: [px(leftX[0]), px(leftX[1])], anchor: yl, range: [0, 303],
    tickmode: 'array', tickvals: dateTickDays, ticktext: dateTickLabels,
    showticklabels: isBottom, ticks: 'inside', ticklen: 6, tickwidth: 1, tickcolor:'#000',
    ticklabelstandoff: 5,
    showline: true, mirror: true, linecolor: '#000', linewidth: 1, showgrid: false, zeroline: false,
    tickfont: bold(12), tickangle: 0
  };
  layout['yaxis' + lk] = {
    domain: [py(leftRows[r][1]), py(leftRows[r][0])], anchor: xl,
    range: r === 0 ? [-20, 40] : [-20, 30], dtick: 10, tick0: 0,
    ticks: 'outside', ticklen: 5, tickwidth: 1, tickcolor:'#000',
    minor: {dtick: 5, tick0: 0, ticks: 'outside', ticklen: 5, tickcolor: '#000'},
    showline: true, mirror: true, linecolor: '#000', linewidth: 1, showgrid: false, zeroline: false,
    tickfont: bold(13)
  };
  layout['xaxis' + ri] = {
    domain: [px(rightX[0]), px(rightX[1])], anchor: yr, range: [0, 24],
    tickmode: 'array', tickvals: hourTicks, ticktext: hourLabels,
    showticklabels: isBottom, ticks: 'inside', ticklen: 5, tickwidth: 1, tickcolor:'#000',
    ticklabelstandoff: 5,
    showline: true, mirror: true, linecolor: '#000', linewidth: 1, showgrid: false, zeroline: false,
    tickfont: bold(11), tickangle: 0
  };
  layout['yaxis' + ri] = {
    domain: [py(rightRows[r][1]), py(rightRows[r][0])], anchor: xr, side: 'right',
    range: [4, 28], dtick: 4, tick0: 0,
    ticks: 'outside', ticklen: 5, tickwidth: 1, tickcolor:'#000',
    minor: {dtick: 2, tick0: 0, ticks: 'outside', ticklen: 5, tickcolor: '#000'},
    showline: true, mirror: true, linecolor: '#000', linewidth: 1, showgrid: false, zeroline: false,
    tickfont: bold(12)
  };

  const lc = (leftRows[r][0] + leftRows[r][1]) / 2;
  const rc = (rightRows[r][0] + rightRows[r][1]) / 2;
  layout.annotations.push({xref:'paper', yref:'paper', x: px(33), y: py(lc), text:'Temperature (C)', textangle:-90,
    showarrow:false, font: bold(15), xanchor:'center', yanchor:'middle'});
  layout.annotations.push({xref:'paper', yref:'paper', x: px(976), y: py(rc), text:'Temperature (C)', textangle:-90,
    showarrow:false, font: bold(12), xanchor:'center', yanchor:'middle'});
  const letterY = [44, 332, 632, 918][r];
  layout.annotations.push({xref:'paper', yref:'paper', x: px(90), y: py(letterY), text:'(a)', showarrow:false,
    font: bold(15), xanchor:'center', yanchor:'middle'});
  layout.annotations.push({xref:'paper', yref:'paper', x: px(718), y: py(letterY), text:'(b)', showarrow:false,
    font: bold(15), xanchor:'center', yanchor:'middle'});

  const LT = [[560,183],[554,473],[555,773],[555,1061]][r];
  const LY = [[202,215,229,242,256],[488,502,516,531,545],[788,802,816,830,844],[1076,1091,1104,1118,1132]][r];
  layout.annotations.push({xref:'paper', yref:'paper', x: px(LT[0]), y: py(LT[1]), text: siteNames[r], showarrow:false,
    font: bold(13), xanchor:'center', yanchor:'middle'});
  for (let k = 0; k < 5; k++) {
    layout.annotations.push({xref:'paper', yref:'paper', x: px(518), y: py(LY[k]), text: leftLegendLabels[k], showarrow:false,
      font: bold(10), xanchor:'left', yanchor:'middle'});
    if (k === 0) {
      layout.shapes.push({type:'circle', xref:'paper', yref:'paper', x0: px(495.5), x1: px(500.5), y0: py(LY[k]+2.5), y1: py(LY[k]-2.5),
        fillcolor:'#000', line:{width:0}});
    } else {
      layout.shapes.push({type:'line', xref:'paper', yref:'paper', x0: px(480), x1: px(514), y0: py(LY[k]), y1: py(LY[k]),
        line:{color:'#000', width: leftStyles[k].width, dash: leftStyles[k].dash}});
    }
  }
  const RT = [[878,189],[878,479],[880,778],[882,1066]][r];
  const RM = [839,850,851,853][r];
  const RL = [[818,862],[830,870],[830,870],[833,872]][r];
  const RX = [863,874,875,878][r];
  const RY = [[204,218,232,246,260],[493,507,521,535,549],[793,807,821,835,849],[1082,1095,1109,1123,1137]][r];
  layout.annotations.push({xref:'paper', yref:'paper', x: px(RT[0]), y: py(RT[1]), text: siteNames[r], showarrow:false,
    font: bold(12), xanchor:'center', yanchor:'middle'});
  for (let k = 0; k < 5; k++) {
    layout.annotations.push({xref:'paper', yref:'paper', x: px(RX), y: py(RY[k]), text: rightLegendLabels[r][k], showarrow:false,
      font: bold(10), xanchor:'left', yanchor:'middle'});
    if (k === 0) {
      layout.shapes.push({type:'circle', xref:'paper', yref:'paper', x0: px(RM-2.5), x1: px(RM+2.5), y0: py(RY[k]+2.5), y1: py(RY[k]-2.5),
        fillcolor:'#000', line:{width:0}});
    } else {
      layout.shapes.push({type:'line', xref:'paper', yref:'paper', x0: px(RL[0]), x1: px(RL[1]), y0: py(RY[k]), y1: py(RY[k]),
        line:{color:'#000', width: rightStyles[k].width, dash: rightStyles[k].dash}});
    }
  }
}
layout.annotations.push({xref:'paper', yref:'paper', x: px(380), y: py(1185), text:'Time (yy/mm/dd)', showarrow:false,
  font: bold(16), xanchor:'center', yanchor:'middle'});
layout.annotations.push({xref:'paper', yref:'paper', x: px(829), y: py(1182), text:'Time (hh:nn)', showarrow:false,
  font: bold(12), xanchor:'center', yanchor:'middle'});

Plotly.newPlot('chart', traces, layout, {staticPlot: true, displayModeBar: false});
</script>
</body></html>
